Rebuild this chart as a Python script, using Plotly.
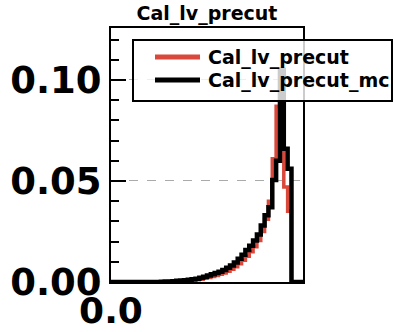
import plotly.graph_objects as go

# Histogram binning: 50 equal bins on [0, 1]
n_bins = 50
bin_edges = [i / n_bins for i in range(n_bins + 1)]

# Normalised bin contents
cal_lv_precut = [
    0, 0, 0, 0, 0, 0, 0, 0, 0, 0,
    0, 0, 0, 0.0001, 0.0001, 0.0002, 0.0003, 0.0004, 0.0005, 0.0006,
    0.0008, 0.0009, 0.0011, 0.0014, 0.0018, 0.0022, 0.0027, 0.0032, 0.0038, 0.0045,
    0.0053, 0.0063, 0.0075, 0.0090, 0.0108, 0.0128, 0.0150, 0.0175, 0.0205, 0.0250,
    0.0310, 0.0400, 0.0610, 0.0870, 0.0720, 0.0470, 0.0350, 0, 0, 0,
]
cal_lv_precut_mc = [
    0, 0, 0, 0, 0, 0, 0, 0, 0, 0,
    0, 0, 0, 0.0001, 0.0002, 0.0003, 0.0004, 0.0006, 0.0008, 0.0009,
    0.0011, 0.0013, 0.0016, 0.0021, 0.0026, 0.0032, 0.0038, 0.0045, 0.0051, 0.0060,
    0.0070, 0.0082, 0.0096, 0.0115, 0.0135, 0.0158, 0.0180, 0.0205, 0.0235, 0.0280,
    0.0330, 0.0370, 0.0505, 0.0600, 0.1050, 0.0660, 0.0560, 0, 0, 0,
]

series_names = ["Cal_lv_precut", "Cal_lv_precut_mc"]
series_values = [cal_lv_precut, cal_lv_precut_mc]
series_colors = ["#d9483b", "#000000"]
series_widths = [3.5, 4.5]

y_tick_vals = [0.0, 0.05, 0.10]
y_tick_text = ["0.00", "0.05", "0.10"]
x_tick_vals = [0.0]
x_tick_text = ["0.0"]

FONT = "DejaVu Sans"

fig = go.Figure()
for name, vals, color, width in zip(series_names, series_values, series_colors, series_widths):
    fig.add_trace(go.Scatter(
        x=bin_edges,
        y=list(vals) + [vals[-1]],
        mode="lines",
        line=dict(shape="hv", color=color, width=width),
        name=name,
        showlegend=False,
        cliponaxis=True,
    ))

fig.update_layout(
    width=395,
    height=332,
    margin=dict(l=111, r=92, t=28, b=50, autoexpand=False),
    paper_bgcolor="white",
    plot_bgcolor="white",
    font=dict(family=FONT, color="black"),
    title=dict(
        text="Cal_lv_precut",
        x=0.5, xref="paper", xanchor="center",
        y=1 - 13 / 332, yref="container", yanchor="middle",
        automargin=False,
        font=dict(family=FONT, size=19, weight="bold", color="black"),
    ),
    showlegend=False,
)

fig.update_xaxes(
    range=[0, 1],
    automargin=False,
    tickvals=x_tick_vals,
    ticktext=x_tick_text,
    ticks="",
    ticklabelstandoff=-4,
    showgrid=False,
    zeroline=False,
    showline=True, linecolor="black", linewidth=2, mirror=True,
    tickfont=dict(family=FONT, size=36, weight="bold", color="black"),
)

fig.update_yaxes(
    range=[0, 0.1257],
    automargin=False,
    tickvals=y_tick_vals,
    ticktext=y_tick_text,
    ticks="inside", ticklen=15, tickwidth=2, tickcolor="black",
    minor=dict(dtick=0.01, ticks="inside", ticklen=8, tickwidth=1.5,
               tickcolor="black", showgrid=False),
    showgrid=True, gridcolor="#aaaaaa", gridwidth=1, griddash="dash",
    zeroline=False,
    showline=True, linecolor="black", linewidth=2, mirror=True,
    tickfont=dict(family=FONT, size=37, weight="bold", color="black"),
)

# Legend box drawn in paper coordinates (semi-transparent white frame)
def px_x(px):
    return (px - 111) / 192

def px_y(py):
    return (282 - py) / 254

fig.add_shape(
    type="rect", xref="paper", yref="paper",
    x0=px_x(133), x1=px_x(392), y0=px_y(101), y1=px_y(40),
    line=dict(color="black", width=2),
    fillcolor="rgba(255,255,255,0.8)",
    layer="above",
)
for name, color, row_y in zip(series_names, series_colors, [57, 80]):
    fig.add_shape(
        type="line", xref="paper", yref="paper",
        x0=px_x(155), x1=px_x(200), y0=px_y(row_y), y1=px_y(row_y),
        line=dict(color=color, width=5),
        layer="above",
    )
    fig.add_annotation(
        text=name, xref="paper", yref="paper",
        x=px_x(206), y=px_y(row_y), xanchor="left", yanchor="middle",
        showarrow=False,
        font=dict(family=FONT, size=19, weight="bold", color="black"),
    )

fig.write_html("out.html")
